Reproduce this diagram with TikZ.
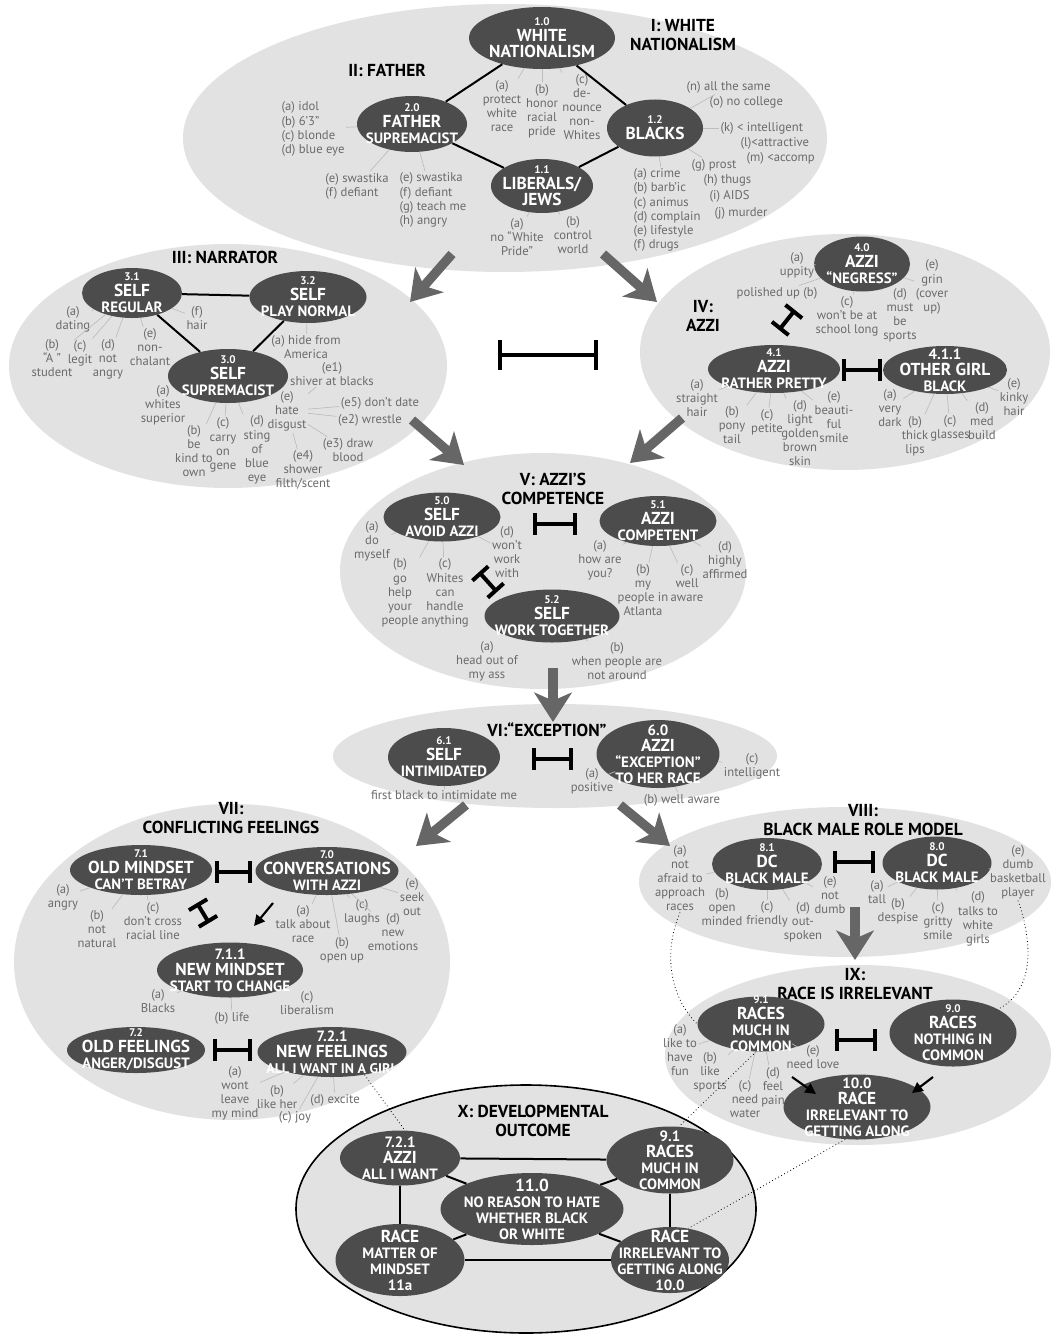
\documentclass[tikz,border=0pt]{standalone}
\usepackage{fontspec}
\setmainfont{PT Sans}
\usetikzlibrary{arrows.meta,shapes.geometric}
\definecolor{clf}{gray}{0.885}
\definecolor{dkf}{gray}{0.30}
\definecolor{lbc}{gray}{0.42}
\definecolor{lkc}{gray}{0.74}
\definecolor{arc}{gray}{0.40}
\newcommand\Nm[1]{{\fontsize{8.3}{8.3}\selectfont #1}}
\newcommand\Tt[1]{{\fontsize{13}{13}\selectfont #1}}
\newcommand\Sb[1]{{\fontsize{11.2}{11.2}\selectfont #1}}
\newcommand\dkn[6]{\node[dk, minimum width=#4*0.75pt, minimum height=#5*0.75pt] (#1) at (#2,#3) {}; \node[dkt] (#1t) at (#1) {#6};}
\newcommand\cln[5]{\node[cl, minimum width=#4*0.75pt, minimum height=#5*0.75pt] (#1) at (#2,#3) {};}
\begin{document}
\begin{tikzpicture}[x=0.75pt,y=-0.75pt,
 cl/.style={ellipse, fill=clf, draw=none, inner sep=0pt},
 dk/.style={ellipse, fill=dkf, draw=none, inner sep=0pt},
 dkt/.style={text=white, align=center, inner sep=0pt, font=\bfseries\fontsize{10}{12}\selectfont},
 lb/.style={text=lbc, align=center, inner sep=1pt, font=\fontsize{9.5}{10.6}\selectfont},
 ttl/.style={align=center, inner sep=0pt, font=\bfseries\fontsize{13}{14}\selectfont},
 lk/.style={draw=lkc, line width=0.5pt},
 blk/.style={draw=black, line width=1.5pt},
 bigarr/.style={draw=arc, line width=7pt, -{Stealth[length=22pt,width=28pt,inset=6pt]}},
 inh/.style={draw=black, line width=3pt, {Bar[width=16pt]}-{Bar[width=16pt]}},
 smarr/.style={draw=black, line width=1.6pt, -{Triangle[length=8pt,width=8pt]}},
 dt/.style={draw=black, line width=0.6pt, dotted}]
\fill[white] (0,0) rectangle (1051,1334);
\useasboundingbox (0,0) rectangle (1051,1334);
% clusters
\cln{cI}{505}{138}{644}{268}
\cln{cIII}{228}{366}{438}{244}
\cln{cIV}{845}{352}{410}{236}
\cln{cV}{543}{571}{406}{236}
\cln{cVI}{555}{756}{444}{104}
\cln{cVII}{232}{962}{436}{316}
\cln{cVIII}{845}{882}{412}{150}
\cln{cIX}{858}{1055}{386}{180}
\node[cl, draw=black, line width=1.2pt, minimum width=460*0.75pt, minimum height=248*0.75pt] (cX) at (526,1209) {};
% big arrows
\coordinate (a1s) at (452,254); \coordinate (a1e) at (410,302);
\coordinate (a2s) at (603,254); \coordinate (a2e) at (657,302);
\coordinate (a3s) at (412,420); \coordinate (a3e) at (464,465);
\coordinate (a4s) at (682,418); \coordinate (a4e) at (630,463);
\coordinate (a5s) at (553,668); \coordinate (a5e) at (553,722);
\coordinate (a6s) at (466,805); \coordinate (a6e) at (416,846);
\coordinate (a7s) at (620,805); \coordinate (a7e) at (670,846);
\coordinate (a8s) at (855,907); \coordinate (a8e) at (855,960);
\foreach \s/\e in {a1s/a1e,a2s/a2e,a3s/a3e,a4s/a4e,a5s/a5e,a6s/a6e,a7s/a7e,a8s/a8e}
  \draw[bigarr] (\s) -- (\e);
% titles
\node[ttl] (tI) at (683,35) {I: WHITE\\NATIONALISM};
\node[ttl] (tII) at (387,70) {II: FATHER};
\node[ttl] (tIII) at (225,257) {III: NARRATOR};
\node[ttl] (tIV) at (703,316) {IV:\\AZZI};
\node[ttl] (tV) at (553,489) {V: AZZI’S\\COMPETENCE};
\node[ttl] (tVI) at (547,730) {VI:“EXCEPTION”};
\node[ttl] (tVII) at (231,818) {VII:\\CONFLICTING FEELINGS};
\node[ttl] (tVIII) at (863,820) {VIII:\\BLACK MALE ROLE MODEL};
\node[ttl] (tIX) at (855,984) {IX:\\RACE IS IRRELEVANT};
\node[ttl] (tX) at (533,1121) {X: DEVELOPMENTAL\\OUTCOME};
% dark nodes I/II
\dkn{n10}{542}{38}{146}{62}{\Nm{1.0}\\\Tt{WHITE}\\\Tt{NATIONALISM}}
\dkn{n12}{655}{128}{96}{57}{\Nm{1.2}\\\Tt{BLACKS}}
\dkn{n11}{542}{186}{102}{54}{\Nm{1.1}\\\Tt{LIBERALS/}\\\Tt{JEWS}}
\dkn{n20}{412}{124}{110}{56}{\Nm{2.0}\\\Tt{FATHER}\\\Sb{SUPREMACIST}}
% III
\dkn{n31}{132}{293}{100}{50}{\Nm{3.1}\\\Tt{SELF}\\\Sb{REGULAR}}
\dkn{n32}{308}{297}{117}{52}{\Nm{3.2}\\\Tt{SELF}\\\Sb{PLAY NORMAL}}
\dkn{n30}{228}{376}{120}{54}{\Nm{3.0}\\\Tt{SELF}\\\Sb{SUPREMACIST}}
% IV
\dkn{n40}{862}{264}{96}{55}{\Nm{4.0}\\\Tt{AZZI}\\\Sb{“NEGRESS”}}
\dkn{n41}{774}{369}{132}{48}{\Nm{4.1}\\\Tt{AZZI}\\\Sb{RATHER PRETTY}}
\dkn{n411}{945}{370}{124}{48}{\Sb{4.1.1}\\\Tt{OTHER GIRL}\\\Sb{BLACK}}
% V
\dkn{n50}{442}{517}{117}{49}{\Nm{5.0}\\\Tt{SELF}\\\Sb{AVOID AZZI}}
\dkn{n51}{658}{521}{117}{50}{\Nm{5.1}\\\Tt{AZZI}\\\Sb{COMPETENT}}
\dkn{n52}{552}{616}{135}{53}{\Nm{5.2}\\\Tt{SELF}\\\Sb{WORK TOGETHER}}
% VI
\dkn{n61}{444}{757}{112}{58}{\Nm{6.1}\\\Tt{SELF}\\\Sb{INTIMIDATED}}
\dkn{n60}{658}{754}{123}{68}{\Sb{6.0}\\\Tt{AZZI}\\\Sb{“EXCEPTION”}\\\Sb{TO HER RACE}}
% VII
\dkn{n71}{141}{870}{142}{50}{\Nm{7.1}\\\Tt{OLD MINDSET}\\\Sb{CAN’T BETRAY}}
\dkn{n70}{327}{871}{143}{48}{\Nm{7.0}\\\Tt{CONVERSATIONS}\\\Sb{WITH AZZI}}
\dkn{n711}{230}{970}{146}{55}{\Sb{7.1.1}\\\Tt{NEW MINDSET}\\\Sb{START TO CHANGE}}
\dkn{n72}{136}{1050}{138}{46}{\Nm{7.2}\\\Tt{OLD FEELINGS}\\\Sb{ANGER/DISGUST}}
\dkn{n721}{332}{1052}{149}{50}{\Sb{7.2.1}\\\Tt{NEW FEELINGS}\\{\fontsize{10.5}{10.5}\selectfont ALL I WANT IN A GIRL}}
% VIII
\dkn{n81}{767}{864}{110}{52}{\Nm{8.1}\\\Tt{DC}\\\Sb{BLACK MALE}}
\dkn{n80}{937}{863}{109}{53}{\Nm{8.0}\\\Tt{DC}\\\Sb{BLACK MALE}}
% IX
\dkn{n91}{761}{1024}{127}{55}{\Nm{9.1}\\\Tt{RACES}\\\Sb{MUCH IN}\\\Sb{COMMON}}
\dkn{n90}{953}{1033}{127}{67}{\Nm{9.0}\\\Tt{RACES}\\\Sb{NOTHING IN}\\\Sb{COMMON}}
\dkn{n100}{857}{1107}{147}{65}{\Sb{10.0}\\\Tt{RACE}\\\Sb{IRRELEVANT TO}\\\Sb{GETTING ALONG}}
% X
\dkn{x721}{400}{1158}{120}{55}{\Sb{7.2.1}\\\Tt{AZZI}\\\Sb{ALL I WANT}}
\dkn{x91}{670}{1160}{127}{67}{\Sb{9.1}\\\Tt{RACES}\\\Sb{MUCH IN}\\\Sb{COMMON}}
\dkn{x110}{532}{1209}{183}{72}{\Tt{11.0}\\\Sb{NO REASON TO HATE}\\\Sb{WHETHER BLACK}\\\Sb{OR WHITE}}
\dkn{x11a}{400}{1260}{129}{72}{\Tt{RACE}\\\Sb{MATTER OF}\\\Sb{MINDSET}\\\Sb{11a}}
\dkn{x100}{670}{1260}{118}{66}{\Tt{RACE}\\\Sb{IRRELEVANT TO}\\\Sb{GETTING ALONG}\\\Sb{10.0}}
% black lines
\foreach \a/\b in {n10/n20,n10/n12,n20/n11,n11/n12,n31/n32,n31/n30,n32/n30,
  x721/x91,x721/x11a,x91/x100,x11a/x100,x110/x721,x110/x91,x110/x11a,x110/x100}
  \draw[blk] (\a) -- (\b);
% labels I/II
\node[lb, align=left, anchor=west] (l20a) at (280,129) {(a) idol\\(b) 6’3”\\(c) blonde\\(d) blue eye};
\node[lb, align=left] (l20b) at (357,186) {(e) swastika\\(f) defiant};
\node[lb, align=left, anchor=west] (l20c) at (398,200) {(e) swastika\\(f) defiant\\(g) teach me\\(h) angry};
\node[lb] (l10a) at (502,106) {(a)\\protect\\white\\race};
\node[lb] (l10b) at (542,111) {(b)\\honor\\racial\\pride};
\node[lb] (l10c) at (582,107) {(c)\\de-\\nounce\\non-\\Whites};
\node[lb] (l11a) at (517,237) {(a)\\no “White\\Pride”};
\node[lb] (l11b) at (573,235) {(b)\\control\\world};
\node[lb, anchor=west] (l12n) at (685,87) {(n) all the same};
\node[lb, anchor=west] (l12o) at (708,102) {(o) no college};
\node[lb, anchor=west] (l12k) at (719,128) {(k) < intelligent};
\node[lb, anchor=west] (l12l) at (739,143) {(l)<attractive};
\node[lb, anchor=west] (l12m) at (745,158) {(m) <accomp};
\node[lb, anchor=west] (l12g) at (690,165) {(g) prost};
\node[lb, anchor=west] (l12h) at (702,180) {(h) thugs};
\node[lb, anchor=west] (l12i) at (708,196) {(i) AIDS};
\node[lb, anchor=west] (l12j) at (713,213) {(j) murder};
\node[lb, align=left, anchor=west] (l12a) at (632,210) {(a) crime\\(b) barb’ic\\(c) animus\\(d) complain\\(e) lifestyle\\(f) drugs};
% III
\node[lb] (l31a) at (73,319) {(a)\\dating};
\node[lb] (l31b) at (52,358) {(b)\\“A ”\\student};
\node[lb] (l31c) at (80,353) {(c)\\legit};
\node[lb] (l31d) at (108,359) {(d)\\not\\angry};
\node[lb] (l31e) at (150,347) {(e)\\non-\\chalant};
\node[lb] (l31f) at (197,318) {(f)\\hair};
\node[lb] (l32a) at (306,347) {(a) hide from\\America};
\node[lb] (l30e1) at (332,374) {(e1)\\shiver at blacks};
\node[lb] (l30e5) at (380,403) {(e5) don’t date};
\node[lb] (l30e2) at (370,420) {(e2) wrestle};
\node[lb] (l30e3) at (348,450) {(e3) draw\\blood};
\node[lb] (l30e4) at (303,470) {(e4)\\shower\\filth/scent};
\node[lb] (l30e) at (287,411) {(e)\\hate\\disgust};
\node[lb] (l30d) at (257,450) {(d)\\sting\\of\\blue\\eye};
\node[lb] (l30c) at (223,445) {(c)\\carry\\on\\gene};
\node[lb] (l30b) at (194,451) {(b)\\be\\kind to\\own};
\node[lb] (l30a) at (163,405) {(a)\\whites\\superior};
% IV
\node[lb] (l40a) at (797,265) {(a)\\uppity};
\node[lb] (l40b) at (777,293) {polished up (b)};
\node[lb] (l40c) at (847,316) {(c)\\won’t be at\\school long};
\node[lb] (l40d) at (900,315) {(d)\\must\\be\\sports};
\node[lb] (l40e) at (932,287) {(e)\\grin\\(cover\\up)};
\node[lb] (l41a) at (697,398) {(a)\\straight\\hair};
\node[lb] (l41b) at (732,425) {(b)\\pony\\tail};
\node[lb] (l41c) at (767,422) {(c)\\petite};
\node[lb] (l41d) at (800,433) {(d)\\light\\golden\\brown\\skin};
\node[lb] (l41e) at (834,417) {(e)\\beauti-\\ful\\smile};
\node[lb] (l411a) at (890,408) {(a)\\very\\dark};
\node[lb] (l411b) at (915,436) {(b)\\thick\\lips};
\node[lb] (l411c) at (950,428) {(c)\\glasses};
\node[lb] (l411d) at (982,421) {(d)\\med\\build};
\node[lb] (l411e) at (1014,397) {(e)\\kinky\\hair};
% V
\node[lb] (l50a) at (372,541) {(a)\\do\\myself};
\node[lb] (l50b) at (400,593) {(b)\\go\\help\\your\\people};
\node[lb] (l50c) at (445,593) {(c)\\Whites\\can\\handle\\anything};
\node[lb] (l50d) at (507,552) {(d)\\won’t\\work\\with};
\node[lb] (l51a) at (600,560) {(a)\\how are\\you?};
\node[lb] (l51b) at (643,590) {(b)\\my\\people in\\Atlanta};
\node[lb] (l51c) at (687,583) {(c)\\well\\aware};
\node[lb] (l51d) at (725,560) {(d)\\highly\\affirmed};
\node[lb] (l52a) at (487,661) {(a)\\head out of\\my ass};
\node[lb] (l52b) at (617,661) {(b)\\when people are\\not around};
% VI
\node[lb] (l61) at (444,795) {first black to intimidate me};
\node[lb] (l60a) at (592,781) {(a)\\positive};
\node[lb] (l60b) at (682,800) {(b) well aware};
\node[lb] (l60c) at (752,766) {(c)\\intelligent};
% VII
\node[lb] (l71a) at (63,897) {(a)\\angry};
\node[lb] (l71b) at (97,929) {(b)\\not\\natural};
\node[lb] (l71c) at (153,921) {(c)\\don’t cross\\racial line};
\node[lb] (l70a) at (303,924) {(a)\\talk about\\race};
\node[lb] (l70b) at (342,950) {(b)\\open up};
\node[lb] (l70c) at (362,912) {(c)\\laughs};
\node[lb] (l70d) at (393,932) {(d)\\new\\emotions};
\node[lb] (l70e) at (412,897) {(e)\\seek\\out};
\node[lb] (l711a) at (158,1001) {(a)\\Blacks};
\node[lb] (l711b) at (232,1018) {(b) life};
\node[lb] (l711c) at (307,1003) {(c)\\liberalism};
\node[lb] (l721a) at (235,1093) {(a)\\wont\\leave\\my mind};
\node[lb] (l721b) at (277,1097) {(b)\\like her};
\node[lb] (l721c) at (295,1117) {(c) joy};
\node[lb] (l721d) at (335,1100) {(d) excite};
% VIII
\node[lb] (l81a) at (680,878) {(a)\\not\\afraid to\\approach\\races};
\node[lb] (l81b) at (722,907) {(b)\\open\\minded};
\node[lb] (l81c) at (767,914) {(c)\\friendly};
\node[lb] (l81d) at (803,922) {(d)\\out-\\spoken};
\node[lb] (l81e) at (830,895) {(e)\\not\\dumb};
\node[lb] (l80a) at (877,892) {(a)\\tall};
\node[lb] (l80b) at (898,911) {(b)\\despise};
\node[lb] (l80c) at (938,921) {(c)\\gritty\\smile};
\node[lb] (l80d) at (978,919) {(d)\\talks to\\white\\girls};
\node[lb] (l80e) at (1018,872) {(e)\\dumb\\basketball\\player};
% IX
\node[lb] (l91a) at (680,1050) {(a)\\like to\\have\\fun};
\node[lb] (l91b) at (710,1072) {(b)\\like\\sports};
\node[lb] (l91c) at (745,1099) {(c)\\need\\water};
\node[lb] (l91d) at (773,1087) {(d)\\feel\\pain};
\node[lb] (l91e) at (813,1057) {(e)\\need love};
% label links
\foreach \a/\b in {n20/l20a,n20/l20b,n20/l20c,n10/l10a,n10/l10b,n10/l10c,n11/l11a,n11/l11b,
  n12/l12n,n12/l12k,n12/l12g,n12/l12a,
  n31/l31a,n31/l31b,n31/l31c,n31/l31d,n31/l31e,n31/l31f,n32/l32a,
  n30/l30a,n30/l30b,n30/l30c,n30/l30d,n30/l30e,l30e/l30e1,l30e/l30e5,l30e/l30e2,l30e/l30e3,l30e/l30e4,
  n40/l40a,n40/l40b,n40/l40c,n40/l40d,n40/l40e,
  n41/l41a,n41/l41b,n41/l41c,n41/l41d,n41/l41e,
  n411/l411a,n411/l411b,n411/l411c,n411/l411d,n411/l411e,
  n50/l50a,n50/l50b,n50/l50c,n50/l50d,n51/l51a,n51/l51b,n51/l51c,n51/l51d,n52/l52a,n52/l52b,
  n61/l61,n60/l60a,n60/l60b,n60/l60c,
  n71/l71a,n71/l71b,n71/l71c,n70/l70a,n70/l70b,n70/l70c,n70/l70d,n70/l70e,
  n711/l711a,n711/l711b,n711/l711c,n721/l721a,n721/l721b,n721/l721c,n721/l721d,
  n81/l81a,n81/l81b,n81/l81c,n81/l81d,n81/l81e,n80/l80a,n80/l80b,n80/l80c,n80/l80d,n80/l80e,
  n91/l91a,n91/l91b,n91/l91c,n91/l91d,n91/l91e}
  \draw[lk] (\a) -- (\b);
% inhibition bars
\coordinate (b1a) at (779,330); \coordinate (b1b) at (795,310);
\coordinate (b2a) at (842,370); \coordinate (b2b) at (882,370);
\coordinate (b3a) at (533,524); \coordinate (b3b) at (577,524);
\coordinate (b4a) at (479,572); \coordinate (b4b) at (497,592);
\coordinate (b5a) at (532,759); \coordinate (b5b) at (573,759);
\coordinate (b6a) at (215,872); \coordinate (b6b) at (252,872);
\coordinate (b7a) at (197,903); \coordinate (b7b) at (209,923);
\coordinate (b8a) at (213,1050); \coordinate (b8b) at (252,1050);
\coordinate (b9a) at (833,862); \coordinate (b9b) at (875,862);
\coordinate (b10a) at (835,1040); \coordinate (b10b) at (877,1040);
\foreach \s/\e in {b1a/b1b,b2a/b2b,b3a/b3b,b4a/b4b,b5a/b5b,b6a/b6b,b7a/b7b,b8a/b8b,b9a/b9b,b10a/b10b}
  \draw[inh] (\s) -- (\e);
\coordinate (bca) at (498,355); \coordinate (bcb) at (598,355);
\draw[draw=black, line width=3.2pt, {Bar[width=22pt]}-{Bar[width=22pt]}] (bca) -- (bcb);
% small arrows
\coordinate (s1a) at (273,903); \coordinate (s1b) at (254,926);
\coordinate (s2a) at (792,1077); \coordinate (s2b) at (816,1094);
\coordinate (s3a) at (933,1077); \coordinate (s3b) at (912,1093);
\foreach \s/\e in {s1a/s1b,s2a/s2b,s3a/s3b} \draw[smarr] (\s) -- (\e);
% dotted links
\draw[dt] (l81a.south) .. controls (664,950) and (668,995) .. (n91.west);
\draw[dt] (l80e.south) .. controls (1032,940) and (1036,990) .. (n90.north east);
\draw[dt] (n721.-35) -- (x721.80);
\draw[dt] (n91.-100) -- (x91.75);
\draw[dt] (n100.-110) -- (x100.60);
\end{tikzpicture}
\end{document}
